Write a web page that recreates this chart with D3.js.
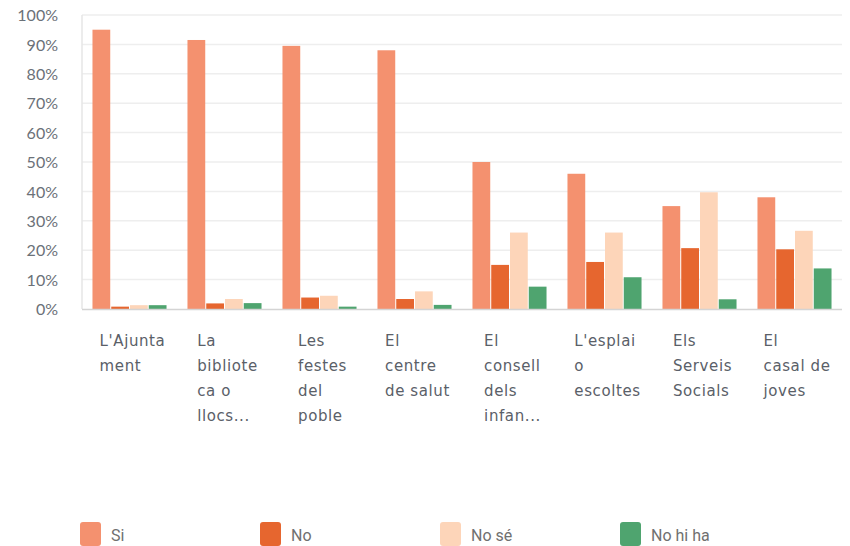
<!DOCTYPE html>
<html>
<head>
<meta charset="utf-8">
<script src="https://cdn.jsdelivr.net/npm/d3@7"></script>
<style>
  html, body { margin: 0; padding: 0; background: #fff; }
  svg { display: block; }
</style>
</head>
<body>
<svg id="chart" width="850" height="546"></svg>
<script>
const categories = [
  ["L'Ajunta", "ment"],
  ["La", "bibliote", "ca o", "llocs..."],
  ["Les", "festes", "del", "poble"],
  ["El", "centre", "de salut"],
  ["El", "consell", "dels", "infan..."],
  ["L'esplai", "o", "escoltes"],
  ["Els", "Serveis", "Socials"],
  ["El", "casal de", "joves"]
];
const seriesNames = ["Si", "No", "No sé", "No hi ha"];
const siValues     = [95, 91.5, 89.5, 88, 50, 46, 35, 38];
const noValues     = [0.8, 1.9, 3.9, 3.4, 15, 16, 20.7, 20.3];
const noSeValues   = [1.3, 3.4, 4.5, 6, 26, 26, 39.7, 26.6];
const noHiHaValues = [1.3, 2, 0.8, 1.4, 7.6, 10.8, 3.3, 13.8];
const colors = ["#f4916f", "#e6662f", "#fdd5b9", "#4fa46f"];
const yTicks = [0, 10, 20, 30, 40, 50, 60, 70, 80, 90, 100];

const seriesValues = [siValues, noValues, noSeValues, noHiHaValues];
const svg = d3.select("#chart");
const pLeft = 82, pRight = 842, pTop = 15, pBottom = 309;

const x0 = d3.scaleBand().domain(d3.range(categories.length)).range([pLeft, pRight]).paddingInner(0.21).paddingOuter(0.105);
const x1 = d3.scaleBand().domain(d3.range(seriesNames.length)).range([0, x0.bandwidth()]).padding(0);
const y = d3.scaleLinear().domain([0, 100]).range([pBottom, pTop]);

// gridlines
svg.append("g").selectAll("line").data(yTicks.filter(t => t > 0)).join("line")
  .attr("x1", pLeft).attr("x2", pRight)
  .attr("y1", d => y(d)).attr("y2", d => y(d))
  .attr("stroke", "#eeeeee").attr("stroke-width", 1.5);

// y-axis labels
const yAxis = d3.axisLeft(y).tickValues(yTicks).tickFormat(d => d + "%").tickSize(0).tickPadding(0);
const ya = svg.append("g").attr("transform", `translate(58,0)`).call(yAxis);
ya.select(".domain").remove();
ya.selectAll("text")
  .attr("font-family", "Lato, 'Open Sans', sans-serif")
  .attr("font-size", 16).attr("fill", "#6b7178").attr("dy", "0.35em");

// left border
svg.append("line").attr("x1", pLeft).attr("x2", pLeft).attr("y1", pTop).attr("y2", pBottom)
  .attr("stroke", "#e6e6e6").attr("stroke-width", 1.5);

// bars
const groups = svg.append("g").selectAll("g").data(categories).join("g")
  .attr("transform", (d, i) => `translate(${x0(i)},0)`);
groups.selectAll("rect").data((d, i) => seriesValues.map((s, k) => ({k, v: s[i]}))).join("rect")
  .attr("x", d => x1(d.k) + 0.5)
  .attr("width", x1.bandwidth() - 1)
  .attr("y", d => y(d.v))
  .attr("height", d => y(0) - y(d.v))
  .attr("fill", d => colors[d.k]);

// bottom axis line
svg.append("line").attr("x1", pLeft).attr("x2", pRight).attr("y1", pBottom + 0.5).attr("y2", pBottom + 0.5)
  .attr("stroke", "#d4d4d4").attr("stroke-width", 1.5);

// category labels
const labelG = svg.append("g");
categories.forEach((lines, i) => {
  const t = labelG.append("text")
    .attr("font-family", "'DejaVu Sans', sans-serif")
    .attr("font-size", 15).attr("letter-spacing", "0.6px").attr("fill", "#5a6068");
  lines.forEach((ln, j) => {
    t.append("tspan").attr("x", 0).attr("y", 346 + j * 25).text(ln);
  });
  const w = t.node().getBBox().width;
  const cx = x0(i) + x0.bandwidth() / 2 + 3;
  t.attr("transform", `translate(${cx - w / 2},0)`);
});

// legend
const legend = svg.append("g").selectAll("g").data(seriesNames).join("g")
  .attr("transform", (d, i) => `translate(${80 + i * 180},522)`);
legend.append("rect").attr("width", 21).attr("height", 24).attr("rx", 3)
  .attr("fill", (d, i) => colors[i]);
legend.append("text").attr("x", 31).attr("y", 19)
  .attr("font-family", "Roboto, sans-serif").attr("font-size", 16)
  .attr("fill", "#707070").text(d => d);
</script>
</body>
</html>
